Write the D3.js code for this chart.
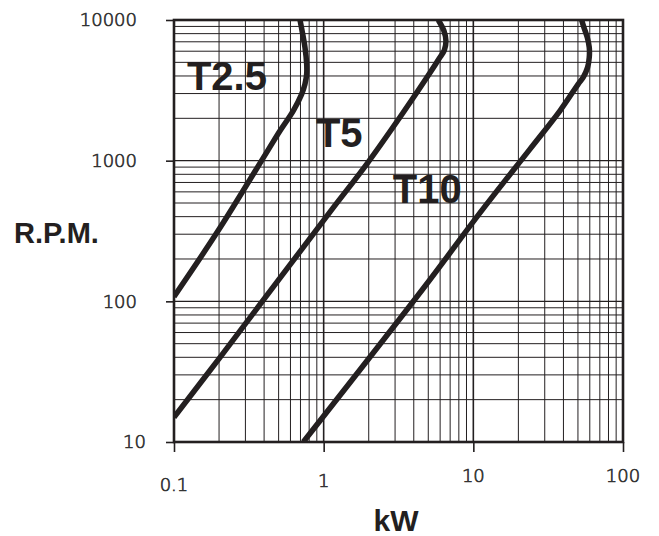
<!DOCTYPE html>
<html>
<head>
<meta charset="utf-8">
<script src="https://cdn.jsdelivr.net/npm/d3@7"></script>
<style>
  html, body { margin: 0; padding: 0; background: #fff; }
  svg { display: block; }
</style>
</head>
<body>
<script>
// ---- data ----
const xTicks = [0.1, 1, 10, 100];
const yTicks = [10, 100, 1000, 10000];
const xTickLabels = ["0.1", "1", "10", "100"];
const yTickLabels = ["10", "100", "1000", "10000"];

const seriesNames = ["T2.5", "T5", "T10"];

const t25Kw  = [0.1, 0.2, 0.425, 0.511, 0.626, 0.713, 0.750, 0.770, 0.770, 0.750, 0.724, 0.695];
const t25Rpm = [108, 325, 1189, 1631, 2263, 2974, 3503, 4126, 4860, 6389, 7940, 10000];

const t5Kw  = [0.1, 0.203, 1.10, 1.94, 3.40, 5.20, 5.90, 6.40, 6.56, 6.36, 5.83];
const t5Rpm = [15, 40, 431, 946, 2200, 4300, 5300, 6100, 7115, 8381, 10000];

const t10Kw  = [0.731, 4.75, 11.07, 23.9, 37.9, 50.2, 54.2, 58.0, 59.5, 59.5, 57.7, 54.8, 52.9];
const t10Rpm = [10, 128, 425, 1209, 2263, 3503, 3908, 4604, 5423, 6389, 7520, 8859, 10000];

// label anchor points (kW, rpm) for series names
const labelKw  = [0.122, 0.888, 2.90];
const labelRpm = [3177, 1249, 500];

// ---- drawing ----
(function () {
const W = 659, H = 536;
const pL = 174, pR = 623, pT = 20, pB = 442;
const ink = "#231f20";

const svg = d3.select("body").append("svg").attr("width", W).attr("height", H);

const x = d3.scaleLog().domain([xTicks[0], xTicks[xTicks.length - 1]]).range([pL, pR]);
const y = d3.scaleLog().domain([yTicks[0], yTicks[yTicks.length - 1]]).range([pB, pT]);

const isDecade = v => Math.abs(Math.log10(v) - Math.round(Math.log10(v))) < 1e-9;

// grid
const grid = svg.append("g");
grid.selectAll("line.vx").data(x.ticks()).enter().append("line")
  .attr("x1", d => x(d)).attr("x2", d => x(d))
  .attr("y1", pT).attr("y2", pB)
  .attr("stroke", ink).attr("stroke-width", d => isDecade(d) ? 1.6 : 1);
grid.selectAll("line.hy").data(y.ticks()).enter().append("line")
  .attr("y1", d => y(d)).attr("y2", d => y(d))
  .attr("x1", pL).attr("x2", pR)
  .attr("stroke", ink).attr("stroke-width", d => isDecade(d) ? 1.4 : 1);

// axes (ticks outward at decades)
const xAxis = d3.axisBottom(x).tickValues(xTicks).tickSize(10).tickFormat("");
const yAxis = d3.axisLeft(y).tickValues(yTicks).tickSize(8).tickFormat("");
const gx = svg.append("g").attr("transform", `translate(0,${pB})`).call(xAxis);
const gy = svg.append("g").attr("transform", `translate(${pL},0)`).call(yAxis);
[gx, gy].forEach(g => {
  g.select(".domain").remove();
  g.selectAll(".tick line").attr("stroke", ink).attr("stroke-width", 1.6);
});

// frame
svg.append("rect")
  .attr("x", pL).attr("y", pT)
  .attr("width", pR - pL).attr("height", pB - pT)
  .attr("fill", "none").attr("stroke", ink).attr("stroke-width", 2.6);

// tick labels
const tickFont = "'DejaVu Sans', sans-serif";
svg.append("g").selectAll("text").data(yTicks).enter().append("text")
  .attr("x", (d, i) => pL - 37 + (i === 0 ? 9 : 0))
  .attr("y", d => y(d))
  .attr("dy", "0.36em")
  .attr("text-anchor", "end")
  .attr("font-family", tickFont).attr("font-weight", 300)
  .attr("font-size", 18).attr("fill", "#333")
  .attr("stroke", "#333").attr("stroke-width", 0.7)
  .text((d, i) => yTickLabels[i]);

svg.append("g").selectAll("text").data(xTicks).enter().append("text")
  .attr("x", d => x(d))
  .attr("y", (d, i) => pB + (i === 0 ? 49 : i === 1 ? 45 : 40))
  .attr("text-anchor", "middle")
  .attr("font-family", tickFont).attr("font-weight", 300)
  .attr("font-size", 18).attr("fill", "#333")
  .attr("stroke", "#333").attr("stroke-width", 0.7)
  .text((d, i) => xTickLabels[i]);

// axis titles
svg.append("text").attr("x", 14).attr("y", 243)
  .attr("font-family", "'Liberation Sans', Arial, sans-serif").attr("font-weight", "bold")
  .attr("font-size", 29).attr("fill", ink).text("R.P.M.");
svg.append("text").attr("x", 396).attr("y", 531)
  .attr("text-anchor", "middle")
  .attr("font-family", "'Liberation Sans', Arial, sans-serif").attr("font-weight", "bold")
  .attr("font-size", 30).attr("fill", ink).text("kW");

// curves
svg.append("clipPath").attr("id", "plotclip").append("rect")
  .attr("x", pL).attr("y", pT).attr("width", pR - pL).attr("height", pB - pT);

const series = [
  { kw: t25Kw, rpm: t25Rpm },
  { kw: t5Kw, rpm: t5Rpm },
  { kw: t10Kw, rpm: t10Rpm }
];
const line = d3.line()
  .x(d => x(d[0])).y(d => y(d[1]))
  .curve(d3.curveCatmullRom.alpha(0.5));

const curves = svg.append("g").attr("clip-path", "url(#plotclip)");
series.forEach(s => {
  const pts = s.kw.map((k, i) => [k, s.rpm[i]]);
  curves.append("path").datum(pts)
    .attr("d", line)
    .attr("fill", "none").attr("stroke", ink)
    .attr("stroke-width", 5.5).attr("stroke-linejoin", "round");
});

// series labels
svg.append("g").selectAll("text").data(seriesNames).enter().append("text")
  .attr("x", (d, i) => x(labelKw[i]))
  .attr("y", (d, i) => y(labelRpm[i]))
  .attr("font-family", "'Liberation Sans', Arial, sans-serif").attr("font-weight", "bold")
  .attr("font-size", 40).attr("fill", ink)
  .text(d => d);
})();
</script>
</body>
</html>
